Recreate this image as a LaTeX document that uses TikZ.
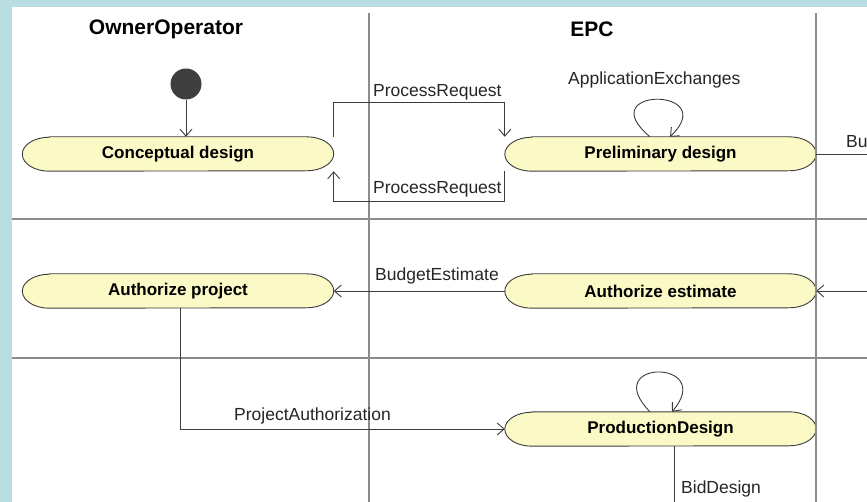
\documentclass[tikz,border=0pt]{standalone}
\usepackage{fontspec}
\setmainfont{Liberation Sans}
\usetikzlibrary{arrows.meta,calc,backgrounds}
\definecolor{bgblue}{HTML}{B8DEE3}
\definecolor{lanegray}{HTML}{8C8C8C}
\definecolor{actfill}{HTML}{FBF9C6}
\definecolor{linedark}{HTML}{3C3C3C}
\definecolor{initgray}{HTML}{3F3F3F}
\newcommand{\actoutline}[1]{%
  \path[actshape] ($(#1.north west)+(27,0)$) -- ($(#1.north east)+(-27,0)$)
    arc[start angle=90,end angle=-90,x radius=27pt,y radius=17pt]
    -- ($(#1.south west)+(27,0)$)
    arc[start angle=270,end angle=90,x radius=27pt,y radius=17pt] -- cycle;}
\begin{document}
\begin{tikzpicture}[x=1pt,y=-1pt,
  activity/.style={rectangle, minimum width=311pt, minimum height=34pt, inner sep=0pt,
    font=\fontsize{17}{20}\selectfont\bfseries},
  actshape/.style={draw=linedark, fill=actfill, line width=0.9pt},
  lane/.style={draw=lanegray, line width=1.6pt},
  conn/.style={draw=linedark, line width=0.9pt},
  flow/.style={conn, -{Straight Barb[length=7pt,width=12pt]}},
  lbl/.style={inner sep=0pt, anchor=west, font=\fontsize{17.5}{20}\selectfont, text=black!85},
  header/.style={inner sep=0pt, font=\fontsize{21}{24}\selectfont\bfseries}
]
\useasboundingbox (0,0) rectangle (867,502);

% swimlanes
\draw[lane] (369,13) -- (369,502);
\draw[lane] (816,13) -- (816,502);
\draw[lane] (12,219) -- (867,219);
\draw[lane] (12,358) -- (867,358);

% headers
\node[header] (hoo) at (166,29) {OwnerOperator};
\node[header] (hepc) at (592,29) {EPC};

% nodes
\node[circle, fill=initgray, minimum size=31pt, inner sep=0pt] (init) at (186,84) {};
\node[activity] (cd) at (178,154) {Conceptual design};
\node[activity] (pd) at (660.5,154) {Preliminary design};
\node[activity] (ap) at (178,291) {Authorize project};
\node[activity] (ae) at (660.5,291) {Authorize estimate};
\node[activity] (prod) at (660.5,429) {ProductionDesign};

\begin{scope}[on background layer]
  \fill[bgblue] (0,0) rectangle (867,502);
  \fill[white] (12,7) rectangle (867,502);
  \actoutline{cd}
  \actoutline{pd}
  \actoutline{ap}
  \actoutline{ae}
  \actoutline{prod}
\end{scope}

\coordinate (rout) at (867,154);
\coordinate (rin) at (867,291);
\coordinate (bidend) at (674,502);

% connectors
\draw[flow] (init.south) -- (init.south |- cd.north);
\draw[flow] (cd.east |- cd.north) -- ++(0,-34) -| (pd.west |- pd.north);
\draw[flow] (pd.west |- pd.south) -- ++(0,30) -| (cd.east |- cd.south);
\draw[flow] ([xshift=-10.5pt]pd.north) .. controls +(-60,-50) and +(52,-50) .. ([xshift=9.5pt]pd.north);
\draw[conn] (pd.east) -- (rout);
\draw[flow] (ae.west) -- (ap.east);
\draw[flow] (rin) -- (ae.east);
\draw[flow] ([xshift=2pt]ap.south) |- (prod.west);
\draw[flow] ([xshift=-10.5pt]prod.north) .. controls +(-52,-53) and +(45,-53) .. ([xshift=11.5pt]prod.north);
\draw[conn] ([xshift=13.5pt]prod.south) -- (bidend);

% labels
\node[lbl] (lpr1) at (373,92) {ProcessRequest};
\node[lbl] (lpr2) at (373,189) {ProcessRequest};
\node[lbl] (lax) at (568,80) {ApplicationExchanges};
\node[lbl] (lbu) at (846,142) {Bu};
\node[lbl] (lbe) at (375,276) {BudgetEstimate};
\node[lbl] (lpa) at (234,416) {ProjectAuthorization};
\node[lbl] (lbd) at (681,489) {BidDesign};
\end{tikzpicture}
\end{document}
